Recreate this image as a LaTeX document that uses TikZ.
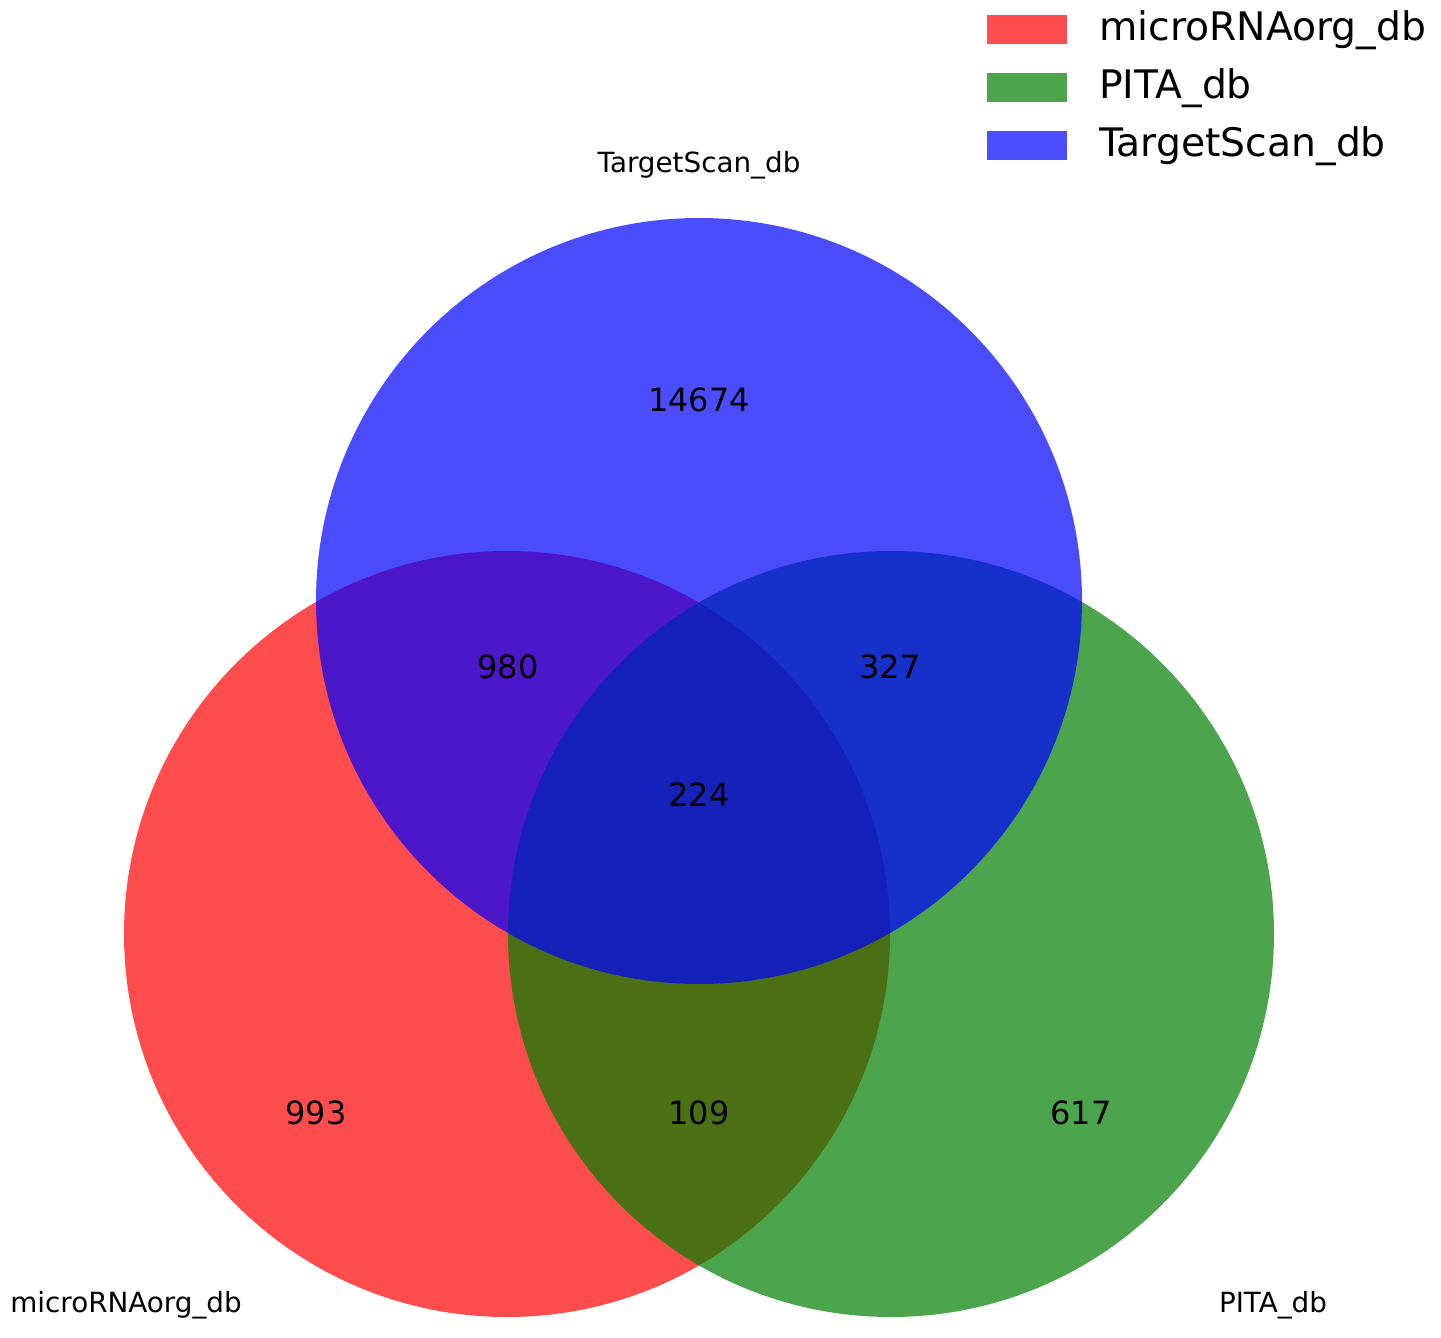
\documentclass[tikz,border=0pt]{standalone}
\usepackage{fontspec}
\setmainfont{DejaVu Sans}
\definecolor{vred}{RGB}{255,0,0}
\definecolor{vgreen}{RGB}{0,128,0}
\definecolor{vblue}{RGB}{0,0,255}
\begin{document}
\begin{tikzpicture}[x=1pt,y=-1pt,
  setcircle/.style={fill opacity=0.7, draw=none},
  num/.style={font=\fontsize{32}{32}\selectfont, text=black, inner sep=0pt},
  setlabel/.style={font=\fontsize{27.8}{28}\selectfont, text=black, inner sep=0pt},
  legtext/.style={font=\fontsize{39.3}{40}\selectfont, anchor=west, inner sep=0pt},
  legpatch/.style={fill opacity=0.7, draw=none}]
\useasboundingbox (0,0) rectangle (1441,1338);
\fill[white] (0,0) rectangle (1441,1338);
% circles
\fill[setcircle, vred] (507,934) circle (383);
\fill[setcircle, vgreen] (891,934) circle (383);
\fill[setcircle, vblue] (699,601) circle (383);
% region counts
\node[num] (n100) at (699,400) {14674};
\node[num] (n110) at (508,667) {980};
\node[num] (n011) at (890,667) {327};
\node[num] (n111) at (699,795) {224};
\node[num] (n1) at (316,1113) {993};
\node[num] (n101) at (699,1113) {109};
\node[num] (n2) at (1081,1113) {617};
% set labels
\node[setlabel] (lt) at (699,165) {TargetScan\_db};
\node[setlabel] (lm) at (126,1305) {microRNAorg\_db};
\node[setlabel] (lp) at (1273,1305) {PITA\_db};
% legend
\fill[legpatch, vred] (987,15) rectangle (1067,44);
\fill[legpatch, vgreen] (987,73) rectangle (1067,102);
\fill[legpatch, vblue] (987,131) rectangle (1067,160);
\node[legtext] (g1) at (1099,30) {microRNAorg\_db};
\node[legtext] (g2) at (1099,88) {PITA\_db};
\node[legtext] (g3) at (1099,146) {TargetScan\_db};
\end{tikzpicture}
\end{document}
